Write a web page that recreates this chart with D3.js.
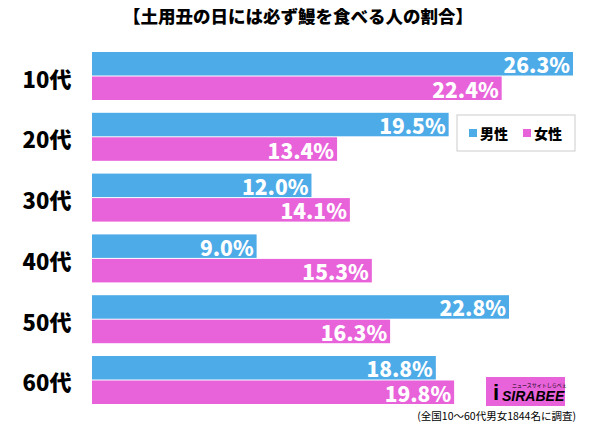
<!DOCTYPE html>
<html>
<head>
<meta charset="utf-8">
<script src="https://cdn.jsdelivr.net/npm/d3@7"></script>
<style>
	body { margin: 0; background: #fff; }
	text { font-family: "Noto Sans CJK JP", sans-serif; }
</style>
</head>
<body>
<svg id="chart" width="600" height="424"></svg>
<script>
const title		= '【土用丑の日には必ず鰻を食べる人の割合】';
const ages		= ['10代', '20代', '30代', '40代', '50代', '60代'];
const male		= [26.3, 19.5, 12.0, 9.0, 22.8, 18.8];
const female	= [22.4, 13.4, 14.1, 15.3, 16.3, 19.8];
const seriesNames	= ['男性', '女性'];
const colors		= ['#4dabe8', '#e862da'];
const note		= '(全国10～60代男女1844名に調査)';

let svg		= d3.select('#chart');

let x		= d3.scaleLinear().domain([0, 26.3]).range([92, 573]);
let y		= d3.scaleBand().domain(ages).range([52, 405]).paddingInner(0.194).paddingOuter(0);
let ySub	= d3.scaleBand().domain([0, 1]).range([0, y.bandwidth()]);

svg.append('text').attr('x', 298).attr('y', 23).attr('text-anchor', 'middle')
	.style('font-size', '17.5px').style('font-weight', 900).text(title);

let groups	= svg.selectAll('g.age').data(ages).enter().append('g').attr('class', 'age')
	.attr('transform', d => 'translate(0,' + y(d) + ')');

groups.append('text').attr('x', 47).attr('y', y.bandwidth() / 2 + 1).attr('text-anchor', 'middle')
	.attr('dominant-baseline', 'central').style('font-size', '22px').style('font-weight', 900).text(d => d);

groups.each(function(d, i) {
	let g	= d3.select(this);
	[male[i], female[i]].forEach((v, s) => {
		g.append('rect').attr('x', x(0)).attr('y', ySub(s)).attr('width', x(v) - x(0)).attr('height', ySub.bandwidth() - 1)
			.style('fill', colors[s]);
		g.append('text').attr('x', x(v) - 3).attr('y', ySub(s) + ySub.bandwidth() / 2).attr('text-anchor', 'end')
			.attr('dominant-baseline', 'central').style('fill', '#fff').style('font-size', '21px').style('font-weight', 900)
			.text(v.toFixed(1) + '%');
	});
});

// legend
let legend	= svg.append('g').attr('transform', 'translate(457,115)');
legend.append('rect').attr('width', 118).attr('height', 36).style('fill', '#fff').style('stroke', '#ccc');
seriesNames.forEach((n, i) => {
	legend.append('rect').attr('x', 12 + i * 54).attr('y', 14).attr('width', 8).attr('height', 8).style('fill', colors[i]);
	legend.append('text').attr('x', 23 + i * 54).attr('y', 18).attr('dominant-baseline', 'central')
		.style('font-size', '14px').style('font-weight', 900).text(n);
});

// logo
let logo	= svg.append('g').attr('transform', 'translate(486,377)');
logo.append('rect').attr('width', 79).attr('height', 29).style('fill', '#e862da');
logo.append('text').attr('x', 7).attr('y', 23).style('font-size', '22px').style('font-weight', 900)
	.style('font-family', 'Liberation Sans').text('i');
logo.append('text').attr('x', 16).attr('y', 24).style('font-size', '14px').style('font-weight', 900)
	.style('font-style', 'italic').style('font-family', 'Liberation Sans').text('SIRABEE');
logo.append('text').attr('x', 26).attr('y', 10).style('font-size', '5px').text('ニュースサイトしらべぇ');

svg.append('text').attr('x', 576).attr('y', 415).attr('text-anchor', 'end').attr('dominant-baseline', 'central')
	.style('font-size', '10.5px').text(note);
</script>
</body>
</html>
